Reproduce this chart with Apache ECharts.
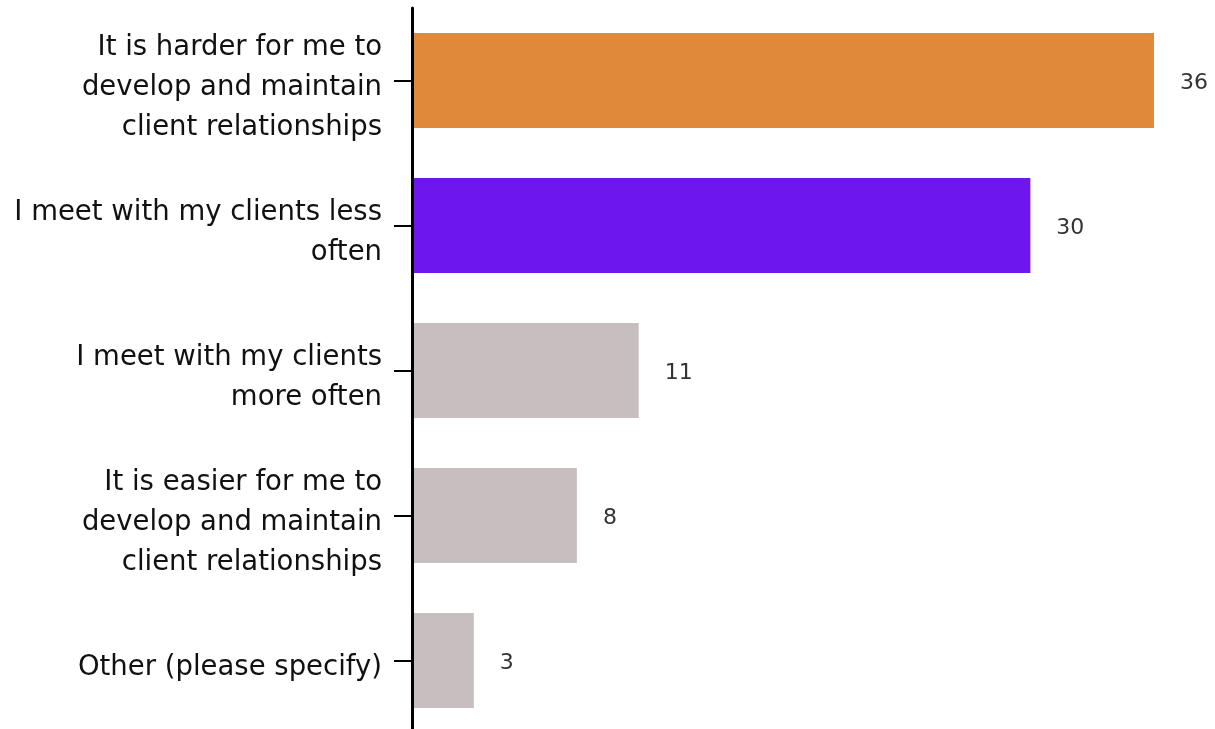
<!DOCTYPE html>
<html>
<head>
<meta charset="utf-8">
<script src="https://cdn.jsdelivr.net/npm/echarts@6/dist/echarts.min.js"></script>
<style>
html,body{margin:0;padding:0;background:#fff;}
#c{width:1215px;height:729px;}
</style>
</head>
<body>
<div id="c"></div>
<script>
const categories = [
  "It is harder for me to\ndevelop and maintain\nclient relationships",
  "I meet with my clients less\noften",
  "I meet with my clients\nmore often",
  "It is easier for me to\ndevelop and maintain\nclient relationships",
  "Other (please specify)"
];
const values = [36, 30, 11, 8, 3];
const barColors = ["#DF8A3A", "#6D17EE", "#C7BEBF", "#C7BEBF", "#C7BEBF"];

const chart = echarts.init(document.getElementById('c'));
chart.setOption({
  animation: false,
  grid: { left: 412, right: 61, top: 8, height: 725, containLabel: false, outerBoundsMode: 'none' },
  xAxis: {
    type: 'value', min: 0, max: 36,
    show: false
  },
  yAxis: {
    type: 'category',
    inverse: true,
    data: categories,
    axisLine: { show: true, lineStyle: { color: '#000', width: 3 } },
    axisTick: { show: true, alignWithLabel: true, length: 18, lineStyle: { color: '#000', width: 2 } },
    axisLabel: {
      margin: 30,
      align: 'right',
      formatter: function (v) {
        return '{s| }\n' + v.split('\n').map(function (s) { return '{a|' + s + '}'; }).join('\n');
      },
      rich: {
        s: { fontSize: 1, lineHeight: 15 },
        a: {
          color: '#111',
          fontFamily: 'DejaVu Sans',
          fontSize: 27.5,
          lineHeight: 40,
          align: 'right'
        }
      }
    },
    z: 5
  },
  series: [{
    type: 'bar',
    barWidth: 95,
    data: values.map((v, i) => ({ value: v, itemStyle: { color: barColors[i] } })),
    label: {
      show: true,
      position: 'right',
      distance: 26,
      offset: [0, 3],
      color: '#333',
      fontFamily: 'DejaVu Sans',
      fontSize: 22
    }
  }]
});
</script>
</body>
</html>
